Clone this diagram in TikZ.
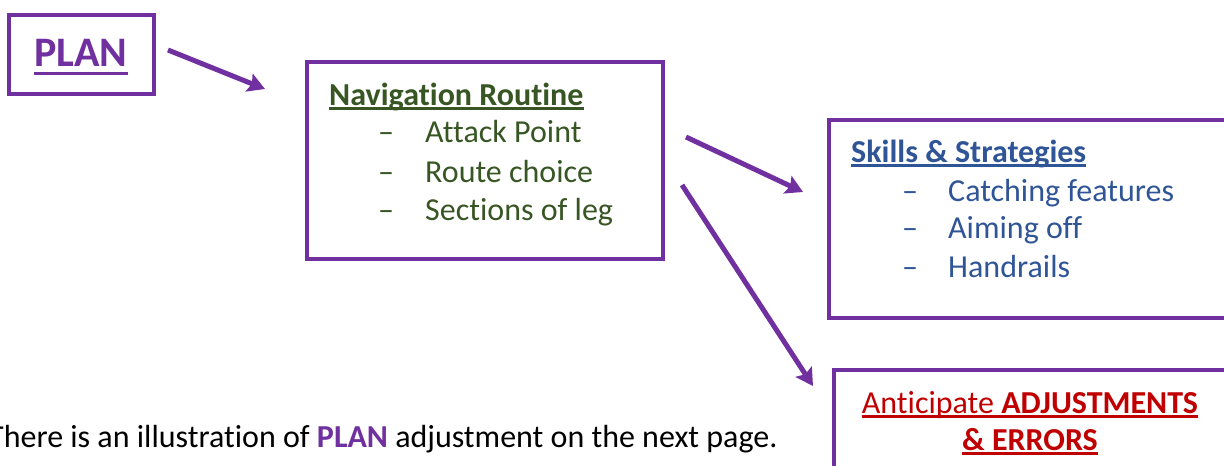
\documentclass[tikz,border=0pt]{standalone}
\usepackage{fontspec}
\setmainfont{Carlito}[Ligatures=NoCommon,RawFeature=-liga]
\usetikzlibrary{arrows.meta}
\definecolor{myPurple}{HTML}{7030A0}
\definecolor{myGreen}{HTML}{375623}
\definecolor{myBlue}{HTML}{2F5597}
\definecolor{myRed}{HTML}{C00000}
\tikzset{
  box/.style={draw=myPurple, line width=4pt, rectangle, anchor=north west, inner sep=0pt},
  txt/.style={anchor=base west, inner sep=0pt, font=\fontsize{32}{38}\selectfont},
  arr/.style={draw=myPurple, line width=5pt, -{Stealth[length=17pt,width=19pt,inset=3pt]}},
  uline/.style={line width=2.4pt},
}
\begin{document}
\begin{tikzpicture}[x=1pt,y=-1pt]
\useasboundingbox (0,0) rectangle (1224,466);
% boxes (anchors are outer corners)
\node[box, minimum width=145pt, minimum height=79pt] (planbox) at (7,13) {};
\node[box, minimum width=356pt, minimum height=197pt] (navbox) at (305,60) {};
\node[box, minimum width=420pt, minimum height=198pt] (skillbox) at (827,118) {};
\node[box, minimum width=420pt, minimum height=150pt] (antbox) at (832,368) {};
% PLAN
\node[anchor=base, inner sep=0pt, text=myPurple, font=\fontsize{42}{48}\selectfont\bfseries] (plan) at (81,66) {PLAN};
\draw[uline, myPurple, line width=3pt] ([yshift=-7.5pt]plan.base west) -- ([yshift=-7.5pt]plan.base east);
% navigation
\node[txt, text=myGreen, font=\fontsize{32}{38}\selectfont\bfseries] (navt) at (329,105) {Navigation Routine};
\draw[uline, myGreen] ([yshift=-3.5pt]navt.base west) -- ([yshift=-3.5pt]navt.base east);
\node[txt, text=myGreen] (navd1) at (378,142) {–};
\node[txt, text=myGreen] (nav1) at (425,142) {Attack Point};
\node[txt, text=myGreen] (navd2) at (378,182) {–};
\node[txt, text=myGreen] (nav2) at (425,182) {Route choice};
\node[txt, text=myGreen] (navd3) at (378,220) {–};
\node[txt, text=myGreen] (nav3) at (425,220) {Sections of leg};
% skills
\node[txt, text=myBlue, font=\fontsize{32}{38}\selectfont\bfseries] (skt) at (851,162) {Skills \& Strategies};
\draw[uline, myBlue] ([yshift=-3.5pt]skt.base west) -- ([yshift=-3.5pt]skt.base east);
\node[txt, text=myBlue] (skd1) at (902,201) {–};
\node[txt, text=myBlue] (sk1) at (948,201) {Catching features};
\node[txt, text=myBlue] (skd2) at (902,238) {–};
\node[txt, text=myBlue] (sk2) at (948,238) {Aiming off};
\node[txt, text=myBlue] (skd3) at (902,277) {–};
\node[txt, text=myBlue] (sk3) at (948,277) {Handrails};
% anticipate
\node[anchor=base, inner sep=0pt, text=myRed, font=\fontsize{32}{38}\selectfont] (ant1) at (1030,413) {Anticipate \textbf{ADJUSTMENTS}};
\draw[uline, myRed] ([yshift=-3.5pt]ant1.base west) -- ([yshift=-3.5pt]ant1.base east);
\node[anchor=base, inner sep=0pt, text=myRed, font=\fontsize{32}{38}\selectfont\bfseries] (ant2) at (1030,450) {\& ERRORS};
\draw[uline, myRed] ([yshift=-3.5pt]ant2.base west) -- ([yshift=-3.5pt]ant2.base east);
% bottom text
\node[txt, font=\fontsize{32}{38}\selectfont] (bottom) at (-12,447) {There is an illustration of \textcolor{myPurple}{\textbf{PLAN}} adjustment on the next page.};
% arrows
\coordinate (a1s) at (168,50); \coordinate (a1e) at (265,89);
\coordinate (a2s) at (686,137); \coordinate (a2e) at (803,192);
\coordinate (a3s) at (682,185); \coordinate (a3e) at (813,386);
\draw[arr] (a1s) -- (a1e);
\draw[arr] (a2s) -- (a2e);
\draw[arr] (a3s) -- (a3e);
\end{tikzpicture}
\end{document}
